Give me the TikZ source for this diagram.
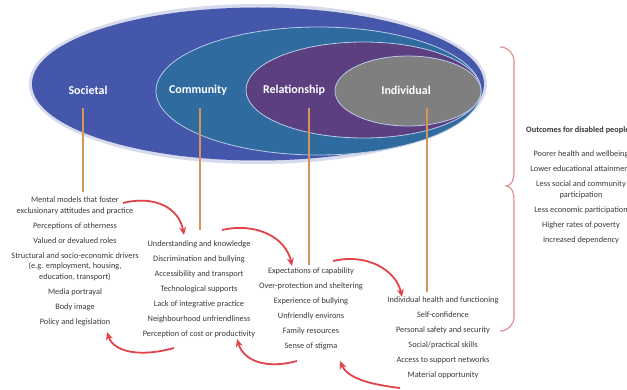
\documentclass[tikz,border=0pt]{standalone}
\usepackage{fontspec}
\setmainfont{Carlito}
\usetikzlibrary{arrows.meta,shapes.geometric}
\definecolor{socblue}{HTML}{4457AA}
\definecolor{comblue}{HTML}{2F6B9E}
\definecolor{relpurple}{HTML}{5B3F7F}
\definecolor{indgray}{HTML}{7F7F80}
\definecolor{rimcol}{HTML}{B7CBE8}
\definecolor{stemcol}{HTML}{D4945A}
\definecolor{arrowred}{HTML}{E2434B}
\definecolor{bracecol}{HTML}{E08A8F}
\definecolor{txtcol}{HTML}{3A3A3A}
\begin{document}
\begin{tikzpicture}[x=1pt,y=-1pt,
  level/.style={ellipse,inner sep=0pt,draw=rimcol,line width=0.8pt},
  lvllabel/.style={text=white,font=\fontsize{12}{14}\selectfont\bfseries},
  stem/.style={draw=stemcol,line width=1.6pt},
  col/.style={align=center,text=txtcol,font=\fontsize{8.3}{10.5}\selectfont,inner sep=0pt},
  cyc/.style={draw=arrowred,line width=1.8pt,-{Stealth[length=8pt,width=7pt]}},
  bracestyle/.style={draw=bracecol,line width=1.1pt}]
\useasboundingbox (0,0) rectangle (627,390);
\clip (0,0) rectangle (627,390);
\fill[white] (0,0) rectangle (627,390);
% soft halo
\node[ellipse,inner sep=0pt,minimum width=458pt,minimum height=160pt,fill=socblue!22] (halo) at (258,84) {};
\node[level,draw=none,fill=socblue,minimum width=452pt,minimum height=153pt] (soc) at (258,84) {};
\node[level,fill=comblue,minimum width=325pt,minimum height=128pt] (com) at (318.5,91) {};
\node[level,fill=relpurple,minimum width=235pt,minimum height=96pt] (rel) at (363.5,90) {};
\node[level,fill=indgray,minimum width=146pt,minimum height=70pt] (ind) at (408,91) {};

\node[lvllabel] (socl) at (88,90) {Societal};
\node[lvllabel] (coml) at (198,90) {Community};
\node[lvllabel] (rell) at (294,90) {Relationship};
\node[lvllabel] (indl) at (406,90) {Individual};

% columns
\node[col,anchor=north] (socc) at (75,197) {Mental models that foster\\exclusionary attitudes and practice\\[4.5pt]
Perceptions of otherness\\[4.5pt]Valued or devalued roles\\[4.5pt]Structural and socio-economic drivers\\(e.g. employment, housing,\\education, transport)\\[4.5pt]
Media portrayal\\[4.5pt]Body image\\[4.5pt]Policy and legislation};
\node[col,anchor=north] (comc) at (199,241) {Understanding and knowledge\\[4.5pt]Discrimination and bullying\\[4.5pt]Accessibility and transport\\[4.5pt]Technological supports\\[4.5pt]Lack of integrative practice\\[4.5pt]Neighbourhood unfriendliness\\[4.5pt]Perception of cost or productivity};
\node[col,anchor=north] (relc) at (311,268) {Expectations of capability\\[4.5pt]Over-protection and sheltering\\[4.5pt]Experience of bullying\\[4.5pt]Unfriendly environs\\[4.5pt]Family resources\\[4.5pt]Sense of stigma};
\node[col,anchor=north] (indc) at (443,296.5) {Individual health and functioning\\[4.5pt]Self-confidence\\[4.5pt]Personal safety and security\\[4.5pt]Social/practical skills\\[4.5pt]Access to support networks\\[4.5pt]Material opportunity};

\node[col,anchor=west,font=\fontsize{8.3}{10.5}\selectfont\bfseries] (outt) at (526,130) {Outcomes for disabled people};
\node[col,anchor=north] (outc) at (581,151) {Poorer health and wellbeing\\[4.5pt]Lower educational attainment\\[4.5pt]Less social and community\\participation\\[4.5pt]Less economic participation\\[4.5pt]Higher rates of poverty\\[4.5pt]Increased dependency};

% stems
\coordinate (socs) at (83,108);
\coordinate (socb) at (83,192);
\coordinate (coms) at (200,108);
\coordinate (comb) at (200,230);
\coordinate (rels) at (309,108);
\coordinate (relb) at (309,265);
\coordinate (inds) at (427,108);
\coordinate (indb) at (427,292);
\draw[stem] (socs) -- (socb);
\draw[stem] (coms) -- (comb);
\draw[stem] (rels) -- (relb);
\draw[stem] (inds) -- (indb);

% cycle arrows
\coordinate (a1s) at (123,203); \coordinate (a1e) at (184,235);
\coordinate (a2s) at (222,230); \coordinate (a2e) at (292,266);
\coordinate (a3s) at (333,261); \coordinate (a3e) at (402,297);
\coordinate (a4s) at (400,388); \coordinate (a4e) at (340,361);
\coordinate (a5s) at (297,361); \coordinate (a5e) at (237,339);
\coordinate (a6s) at (174,348); \coordinate (a6e) at (107,332);
\draw[cyc] (a1s) .. controls (155,195) and (179,208) .. (a1e);
\draw[cyc] (a2s) .. controls (257,222) and (286,238) .. (a2e);
\draw[cyc] (a3s) .. controls (367,253) and (396,270) .. (a3e);
\draw[cyc] (a4s) .. controls (366,384) and (347,377) .. (a4e);
\draw[cyc] (a5s) .. controls (268,369) and (244,362) .. (a5e);
\draw[cyc] (a6s) .. controls (142,357) and (114,353) .. (a6e);

% brace
\coordinate (bt) at (500,47);
\coordinate (bm) at (506,186);
\coordinate (bb) at (500,331);
\draw[bracestyle] (bt) to[out=0,in=90] (514,61) -- (514,172) to[out=-90,in=0] (bm) to[out=0,in=90] (514,200) -- (514,317) to[out=-90,in=0] (bb);
\end{tikzpicture}
\end{document}
